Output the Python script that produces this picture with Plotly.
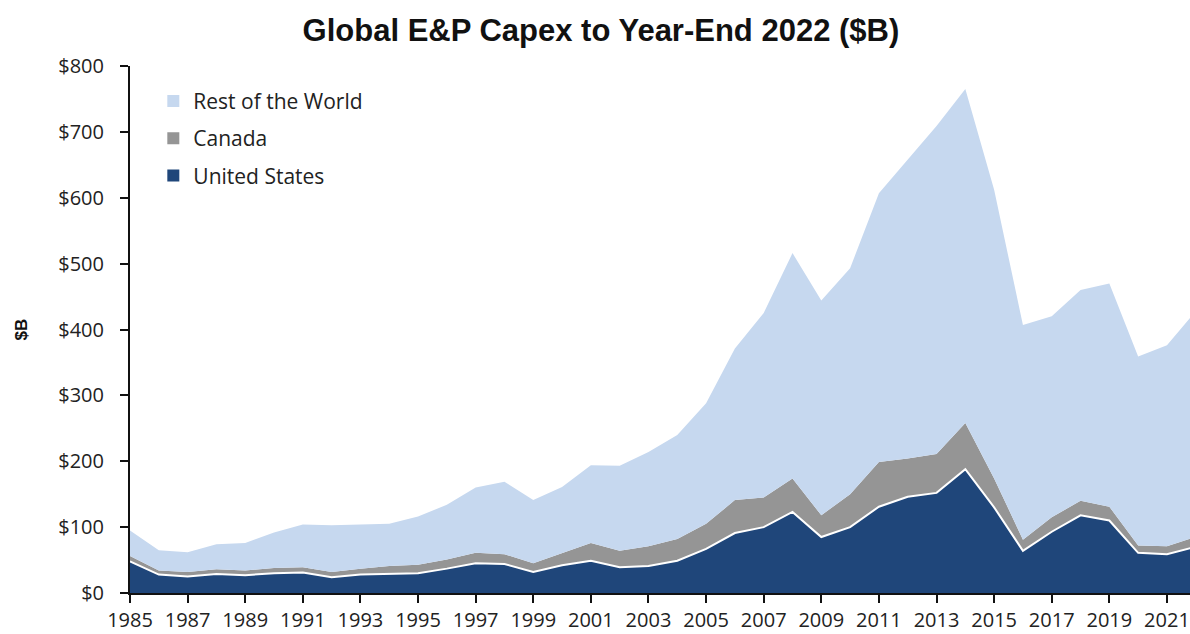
import plotly.graph_objects as go

years = list(range(1985, 2023))

# Capex by region, $B
us = [48, 28, 25, 29, 27, 30, 31, 24, 28, 29, 30, 37, 45, 44,
      32, 42, 49, 39, 41, 49, 67, 91, 100, 123, 85, 100, 131, 146,
      152, 188, 130, 64, 93, 118, 110, 61, 59, 70]
canada_top = [56, 34, 32, 36, 34, 38, 39, 32, 37, 41, 43, 51, 61, 59,
              45, 61, 76, 64, 71, 82, 105, 141, 145, 174, 118, 150, 199, 204,
              211, 258, 174, 81, 115, 140, 131, 72, 71, 85]
total = [95, 65, 62, 74, 76, 92, 104, 103, 104, 105, 116, 134, 160, 169,
         141, 161, 194, 193, 214, 240, 288, 371, 425, 516, 444, 493, 607, 658,
         709, 765, 612, 407, 420, 460, 470, 359, 376, 428]

canada = [c - u for c, u in zip(canada_top, us)]
rest_of_world = [t - c for t, c in zip(total, canada_top)]

C_US = "#1f467a"
C_CAN = "#959595"
C_ROW = "#c6d8ef"

BODY_FONT = "Open Sans, Lato, sans-serif"

fig = go.Figure()
fig.add_trace(go.Scatter(
    x=years, y=us, name="United States", stackgroup="capex",
    mode="lines", line=dict(color="white", width=2),
    fillcolor=C_US, showlegend=False,
))
fig.add_trace(go.Scatter(
    x=years, y=canada, name="Canada", stackgroup="capex",
    mode="lines", line=dict(color=C_CAN, width=0),
    fillcolor=C_CAN, showlegend=False,
))
fig.add_trace(go.Scatter(
    x=years, y=rest_of_world, name="Rest of the World", stackgroup="capex",
    mode="lines", line=dict(color=C_ROW, width=0),
    fillcolor=C_ROW, showlegend=False,
))

# square swatches for the legend
for name, color in [("Rest of the World", C_ROW), ("Canada", C_CAN),
                    ("United States", C_US)]:
    fig.add_trace(go.Scatter(
        x=[None], y=[None], mode="markers", name=name, legendgroup=name,
        marker=dict(symbol="square", size=13, color=color),
    ))

fig.update_layout(
    width=1190, height=634,
    margin=dict(l=130, r=0, t=66, b=41),
    paper_bgcolor="white", plot_bgcolor="white",
    title=dict(
        text="<b>Global E&P Capex to Year-End 2022 ($B)</b>",
        x=0.505, xref="container", xanchor="center",
        y=0.952, yanchor="middle",
        font=dict(family="Liberation Sans, Arial", size=31, color="#111"),
    ),
    legend=dict(
        x=0.022, y=0.972, xanchor="left", yanchor="top",
        traceorder="grouped",
        font=dict(family=BODY_FONT, size=21, color="#222"),
        bgcolor="rgba(0,0,0,0)", itemsizing="constant",
        tracegroupgap=7, itemwidth=30,
    ),
    showlegend=True,
)

fig.update_xaxes(
    range=[1985, 2021.8],
    tickvals=list(range(1985, 2022, 2)),
    ticks="outside", ticklen=8, tickwidth=2, tickcolor="#111",
    showline=True, linecolor="#111", linewidth=2,
    showgrid=False, zeroline=False,
    tickfont=dict(family=BODY_FONT, size=20, color="#222"),
)
fig.update_yaxes(
    range=[0, 800], dtick=100, tickprefix="$",
    ticks="outside", ticklen=8, tickwidth=2, tickcolor="#111",
    ticklabelstandoff=12,
    showline=True, linecolor="#111", linewidth=2,
    showgrid=False, zeroline=False,
    tickfont=dict(family=BODY_FONT, size=20, color="#222"),
    title=dict(text="<b>$B</b>", standoff=26,
               font=dict(family="Liberation Sans, Arial", size=17, color="#111")),
)

fig.write_html("out.html")
